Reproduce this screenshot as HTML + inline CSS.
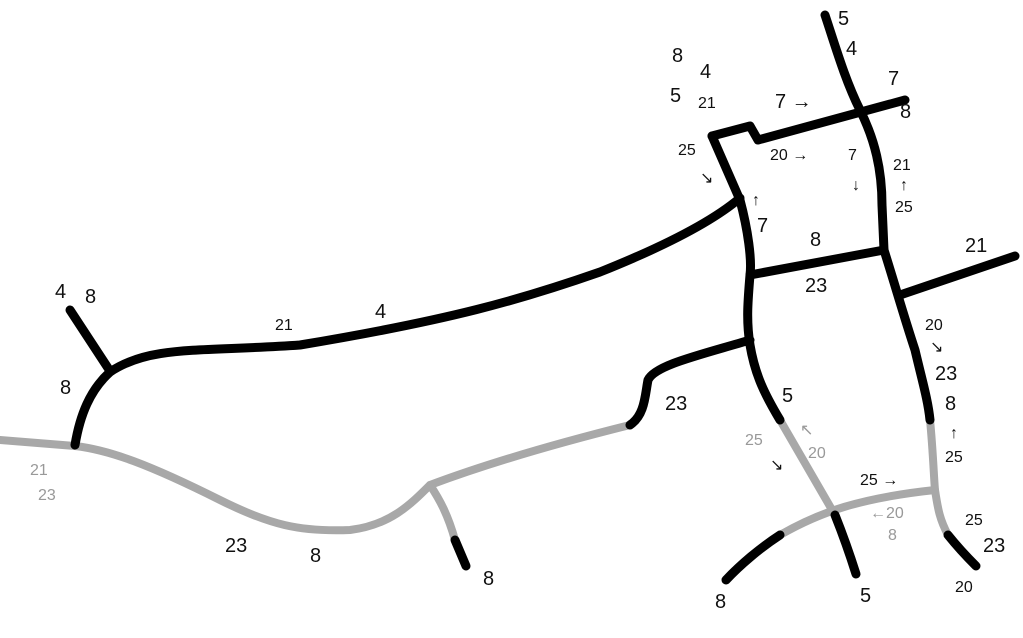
<!DOCTYPE html>
<html><head><meta charset="utf-8"><style>
html,body{margin:0;padding:0;background:#fff;width:1023px;height:638px;overflow:hidden}
svg text{font-family:"Liberation Sans",sans-serif;font-size:20px;fill:#111}
svg text.g{fill:#999}
svg text.s{font-size:16px}
</style></head><body>
<svg width="1023" height="638" viewBox="0 0 1023 638" xmlns="http://www.w3.org/2000/svg">
<g fill="none" stroke-linecap="round" stroke-linejoin="round">
<!-- gray roads -->
<path d="M0,440 L75,446 C110,450 150,465 220,500 C270,525 300,532 350,530 C390,525 410,505 430,485 C470,470 530,450 630,425" stroke="#a8a8a8" stroke-width="8"/>
<path d="M430,485 C440,500 448,515 455,540" stroke="#a8a8a8" stroke-width="8"/>
<path d="M780,420 C800,455 815,480 835,515" stroke="#a8a8a8" stroke-width="8"/>
<path d="M780,535 C820,512 860,498 935,490" stroke="#a8a8a8" stroke-width="8"/>
<path d="M930,420 C933,450 934,480 935,490 C938,510 940,520 948,535" stroke="#a8a8a8" stroke-width="8"/>
<!-- black roads -->
<g stroke="#000" stroke-width="9">
<path d="M740,198 C720,215 680,240 600,272 C520,300 450,320 300,345 C200,352 150,345 110,372 C90,390 80,415 75,445"/>
<path d="M70,310 L108,368"/>
<path d="M630,425 C645,415 645,395 648,380 C655,365 700,355 750,340"/>
<path d="M455,540 L466,566"/>
<path d="M712,136 L750,126 L758,140 L905,100"/>
<path d="M712,136 L740,200 C748,230 752,260 750,275 C748,300 746,320 750,345 C755,375 765,395 780,420"/>
<path d="M835,515 C845,540 850,555 856,574"/>
<path d="M825,15 C835,45 845,80 860,110 C875,140 882,170 882,205 L884,250 C895,285 905,320 915,350 C922,380 928,400 930,420"/>
<path d="M948,535 C960,550 968,558 976,566"/>
<path d="M750,275 L884,250"/>
<path d="M900,295 L1015,256"/>
<path d="M726,580 C740,565 760,548 780,535"/>
</g>
</g>
<!-- labels -->
<text x="55" y="298">4</text><text x="85" y="303">8</text>
<text x="60" y="394">8</text>
<text x="30" y="475" class="g s">21</text><text x="38" y="500" class="g s">23</text>
<text x="275" y="330" class="s">21</text><text x="375" y="318">4</text>
<text x="225" y="552">23</text><text x="310" y="562">8</text>
<text x="483" y="585">8</text>
<text x="665" y="410">23</text>
<text x="672" y="62">8</text><text x="700" y="78">4</text>
<text x="670" y="102">5</text><text x="698" y="108" class="s">21</text>
<text x="678" y="155" class="s">25</text><text x="700" y="183" class="s">↘</text>
<text x="752" y="205" class="s">↑</text><text x="757" y="232">7</text>
<text x="775" y="108">7 →</text>
<text x="770" y="160" class="s">20 →</text>
<text x="848" y="160" class="s">7</text><text x="852" y="190" class="s">↓</text>
<text x="838" y="25">5</text><text x="846" y="55">4</text>
<text x="888" y="85">7</text><text x="900" y="118">8</text>
<text x="893" y="170" class="s">21</text><text x="900" y="190" class="s">↑</text><text x="895" y="212" class="s">25</text>
<text x="810" y="246">8</text><text x="805" y="292">23</text>
<text x="965" y="252">21</text>
<text x="925" y="330" class="s">20</text><text x="930" y="352" class="s">↘</text>
<text x="935" y="380">23</text><text x="945" y="410">8</text>
<text x="950" y="438" class="s">↑</text><text x="945" y="462" class="s">25</text>
<text x="782" y="402">5</text>
<text x="745" y="445" class="g s">25</text><text x="770" y="470" class="s">↘</text>
<text x="800" y="435" class="g s">↖</text><text x="808" y="458" class="g s">20</text>
<text x="860" y="485" class="s">25 →</text>
<text x="870" y="518" class="g s">←20</text><text x="888" y="540" class="g s">8</text>
<text x="965" y="525" class="s">25</text><text x="983" y="552">23</text>
<text x="955" y="592" class="s">20</text>
<text x="715" y="608">8</text><text x="860" y="602">5</text>
</svg>
</body></html>
